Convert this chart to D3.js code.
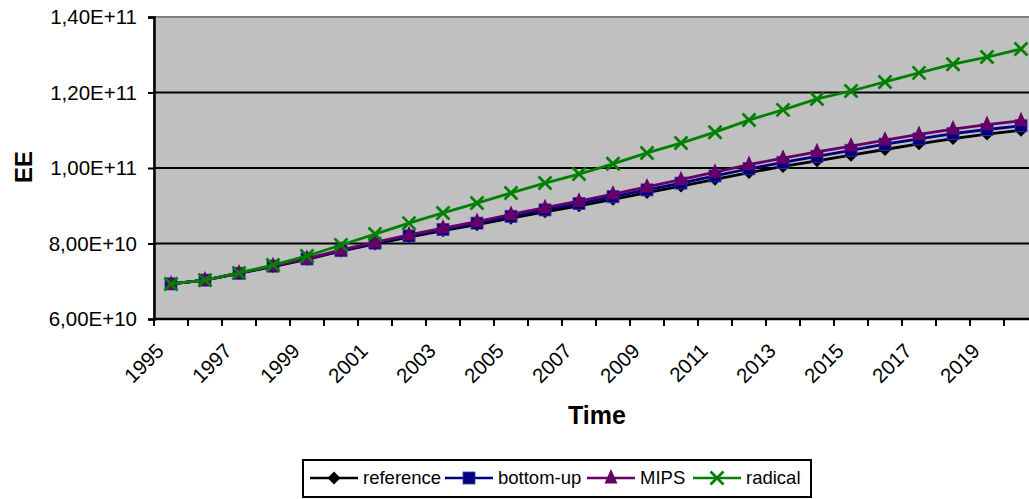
<!DOCTYPE html>
<html>
<head>
<meta charset="utf-8">
<script src="https://cdn.jsdelivr.net/npm/d3@7"></script>
<style>
  html, body { margin: 0; padding: 0; background: #fff; overflow: hidden; }
  svg { display: block; font-family: "Liberation Sans", Arial, sans-serif; }
</style>
</head>
<body>
<svg id="chart" width="1029" height="499"></svg>
<script>
// Years on the category axis
const years = d3.range(1995, 2021).map(String);
// Years that carry a tick label
const labelYears = years.filter((y, i) => i % 2 === 0);
// Y-axis tick values
const yTicks = [6e10, 8e10, 1e11, 1.2e11, 1.4e11];

// Series values (EE)
const reference = [6.93e10, 7.03e10, 7.21e10, 7.39e10, 7.58e10, 7.80e10, 7.99e10, 8.17e10, 8.34e10, 8.50e10,
  8.67e10, 8.84e10, 9.00e10, 9.17e10, 9.35e10, 9.52e10, 9.70e10, 9.88e10, 10.04e10, 10.19e10,
  10.34e10, 10.49e10, 10.64e10, 10.78e10, 10.90e10, 11.00e10];
const bottomUp = [6.93e10, 7.03e10, 7.21e10, 7.40e10, 7.59e10, 7.81e10, 8.01e10, 8.20e10, 8.37e10, 8.54e10,
  8.72e10, 8.89e10, 9.06e10, 9.24e10, 9.42e10, 9.60e10, 9.79e10, 9.98e10, 10.15e10, 10.31e10,
  10.47e10, 10.63e10, 10.77e10, 10.91e10, 11.02e10, 11.12e10];
const mips = [6.93e10, 7.03e10, 7.22e10, 7.41e10, 7.60e10, 7.83e10, 8.03e10, 8.23e10, 8.41e10, 8.58e10,
  8.77e10, 8.95e10, 9.12e10, 9.31e10, 9.50e10, 9.69e10, 9.89e10, 10.09e10, 10.26e10, 10.43e10,
  10.58e10, 10.74e10, 10.89e10, 11.03e10, 11.15e10, 11.25e10];
const radical = [6.93e10, 7.03e10, 7.22e10, 7.43e10, 7.67e10, 7.96e10, 8.25e10, 8.54e10, 8.81e10, 9.07e10,
  9.34e10, 9.60e10, 9.84e10, 10.11e10, 10.40e10, 10.66e10, 10.95e10, 11.27e10, 11.54e10, 11.83e10,
  12.04e10, 12.28e10, 12.52e10, 12.75e10, 12.94e10, 13.15e10];

const seriesNames = ["reference", "bottom-up", "MIPS", "radical"];
const seriesValues = [reference, bottomUp, mips, radical];
const seriesColors = ["#000000", "#000080", "#660066", "#008000"];
const seriesMarkers = ["diamond", "square", "triangle", "cross"];

const svg = d3.select("#chart");
const plot = { left: 154, right: 1038, top: 17, bottom: 319 };

const x = d3.scaleBand().domain(years).range([plot.left, plot.right]);
const cx = d => x(d) + x.bandwidth() / 2;
const y = d3.scaleLinear().domain([6e10, 1.4e11]).range([plot.bottom, plot.top]);

const fmt = v => v.toExponential(2).replace(".", ",").replace("e", "E");

// Plot area
svg.append("rect")
  .attr("x", plot.left).attr("y", plot.top)
  .attr("width", plot.right - plot.left).attr("height", plot.bottom - plot.top)
  .attr("fill", "#c0c0c0").attr("stroke", "#808080").attr("stroke-width", 2);

// Horizontal gridlines
svg.append("g").selectAll("line")
  .data(yTicks.slice(1, -1))
  .join("line")
  .attr("x1", plot.left).attr("x2", plot.right)
  .attr("y1", d => y(d)).attr("y2", d => y(d))
  .attr("stroke", "#000").attr("stroke-width", 2);

// Y axis
const yAxis = svg.append("g")
  .attr("transform", `translate(${plot.left},0)`)
  .call(d3.axisLeft(y).tickValues(yTicks).tickFormat(fmt).tickSize(6).tickPadding(11));
yAxis.select(".domain").attr("stroke", "#000").attr("stroke-width", 2.5);
yAxis.selectAll(".tick line").attr("stroke", "#000").attr("stroke-width", 2);
yAxis.selectAll(".tick text").attr("font-size", 20.5).attr("fill", "#000")
  .attr("font-family", "'Liberation Sans', Arial, sans-serif");

// X axis: ticks on category boundaries
const xAxisG = svg.append("g");
xAxisG.append("line")
  .attr("x1", plot.left).attr("x2", plot.right)
  .attr("y1", plot.bottom).attr("y2", plot.bottom)
  .attr("stroke", "#000").attr("stroke-width", 2.5);
xAxisG.selectAll("line.tk")
  .data(years)
  .join("line").attr("class", "tk")
  .attr("x1", d => x(d)).attr("x2", d => x(d))
  .attr("y1", plot.bottom).attr("y2", plot.bottom + 7)
  .attr("stroke", "#000").attr("stroke-width", 2);
xAxisG.selectAll("text")
  .data(labelYears)
  .join("text")
  .attr("transform", d => `translate(${cx(d) - 11},${plot.bottom + 28}) rotate(-45)`)
  .attr("text-anchor", "end")
  .attr("dy", "0.35em")
  .attr("font-size", 20.5)
  .attr("fill", "#000")
  .text(d => d);

// Axis titles
svg.append("text")
  .attr("x", 597).attr("y", 424)
  .attr("text-anchor", "middle")
  .attr("font-size", 25).attr("font-weight", "bold")
  .text("Time");
svg.append("text")
  .attr("transform", "translate(32,167) rotate(-90)")
  .attr("text-anchor", "middle")
  .attr("font-size", 24).attr("font-weight", "bold")
  .text("EE");

// Marker shapes
function marker(sel, kind, color) {
  if (kind === "diamond") {
    sel.append("path").attr("d", "M0,-6.5L6.5,0L0,6.5L-6.5,0Z").attr("fill", color);
  } else if (kind === "square") {
    sel.append("rect").attr("x", -6).attr("y", -6).attr("width", 12).attr("height", 12)
      .attr("fill", color).attr("stroke", "#3a3aa8").attr("stroke-width", 0.8);
  } else if (kind === "triangle") {
    sel.append("path").attr("d", "M0,-9L6.5,5.5L-6.5,5.5Z").attr("fill", color);
  } else {
    sel.append("path").attr("d", "M-6.5,-6.5L6.5,6.5M-6.5,6.5L6.5,-6.5")
      .attr("stroke", color).attr("stroke-width", 2.8).attr("fill", "none");
  }
}

// Series lines with markers
const line = d3.line().x((d, i) => cx(years[i])).y(d => y(d));
const seriesG = svg.append("g");
seriesValues.forEach((vals, s) => {
  const g = seriesG.append("g");
  g.append("path")
    .attr("d", line(vals))
    .attr("fill", "none")
    .attr("stroke", seriesColors[s])
    .attr("stroke-width", 2.8);
  vals.forEach((v, i) => {
    const m = g.append("g").attr("transform", `translate(${cx(years[i])},${y(v)})`);
    marker(m, seriesMarkers[s], seriesColors[s]);
  });
});

// Legend
const legend = svg.append("g");
legend.append("rect")
  .attr("x", 303).attr("y", 460).attr("width", 508).attr("height", 37)
  .attr("fill", "#fff").attr("stroke", "#000").attr("stroke-width", 2);
const legendX = [310, 445, 587, 693];
seriesNames.forEach((name, s) => {
  const g = legend.append("g").attr("transform", `translate(${legendX[s]},478)`);
  g.append("line").attr("x1", 0).attr("x2", 48).attr("y1", 0).attr("y2", 0)
    .attr("stroke", seriesColors[s]).attr("stroke-width", 2.6);
  const m = g.append("g").attr("transform", "translate(24,0)");
  marker(m, seriesMarkers[s], seriesColors[s]);
  g.append("text").attr("x", 53).attr("y", 0).attr("dy", "0.35em")
    .attr("font-size", 18.5).attr("fill", "#000").text(name);
});
</script>
</body>
</html>
